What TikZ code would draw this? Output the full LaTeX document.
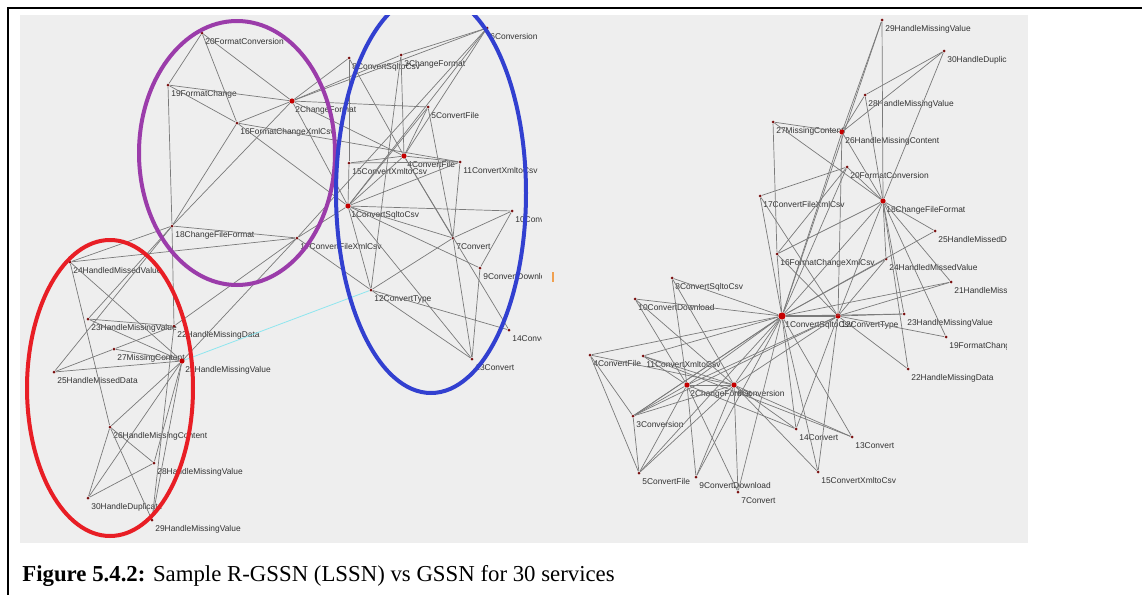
\documentclass[tikz,border=0pt]{standalone}
\usepackage{fontspec}
\setmainfont{Liberation Serif}
\newfontfamily\lblfont{Liberation Sans}
\definecolor{panel}{HTML}{EEEEEE}
\definecolor{edgegray}{HTML}{7A7A7A}
\definecolor{dotred}{HTML}{7A1010}
\definecolor{hubred}{HTML}{C40000}
\definecolor{lbltext}{HTML}{333333}
\definecolor{ringpurple}{HTML}{9B3CAA}
\definecolor{ringblue}{HTML}{3240D0}
\definecolor{ringred}{HTML}{E81E25}
\definecolor{linkcyan}{HTML}{8EE6EE}
\definecolor{tickorange}{HTML}{F0A050}
% one service: dot node plus its label below right
\newcommand\svc[5]{%
  \node[#1] (#2) at (#3,#4) {};
  \node[lbl] (#2-t) at (#3+3,#4+5) {#5};}
\begin{document}
\begin{tikzpicture}[x=0.5pt,y=-0.5pt,
  dot/.style={circle,fill=dotred,inner sep=0pt,minimum size=1.5pt},
  hub/.style={circle,fill=hubred,inner sep=0pt,minimum size=2.6pt},
  bighub/.style={circle,fill=hubred,inner sep=0pt,minimum size=3.6pt},
  lbl/.style={anchor=north west,inner sep=0pt,text=lbltext,
    font=\lblfont\fontsize{4.2}{4.2}\selectfont},
  edge/.style={draw=edgegray,line width=0.35pt},
  ring/.style={line width=2pt}]
\useasboundingbox (0,0) rectangle (1142,595);
% page frame
\draw[line width=0.8pt] (8,595) -- (8,8) -- (1142,8);
% grey canvas
\fill[panel] (20,15) rectangle (1028,543);

% ---------------- left network (R-GSSN) ----------------
\begin{scope}
\clip (20,15) rectangle (541,543);
\svc{dot}{a20}{202}{33}{20FormatConversion}
\svc{dot}{a19}{168}{85}{19FormatChange}
\svc{hub}{a2}{292}{101}{2ChangeFormat}
\svc{dot}{a16}{237}{123}{16FormatChangeXmlCsv}
\svc{dot}{a18}{172}{226}{18ChangeFileFormat}
\svc{dot}{a17}{297}{238}{17ConvertFileXmlCsv}
\svc{dot}{a8}{349}{58}{8ConvertSqltoCsv}
\svc{dot}{a3}{401}{55}{3ChangeFormat}
\svc{dot}{a6}{487}{28}{6Conversion}
\svc{dot}{a5}{428}{107}{5ConvertFile}
\svc{hub}{a4}{404}{156}{4ConvertFile}
\svc{dot}{a15}{349}{163}{15ConvertXmltoCsv}
\svc{dot}{a11}{460}{162}{11ConvertXmltoCsv}
\svc{hub}{a1}{348}{206}{1ConvertSqltoCsv}
\svc{dot}{a10}{512}{211}{10ConvertDownload}
\svc{dot}{a7}{453}{238}{7Convert}
\svc{dot}{a9}{480}{268}{9ConvertDownload}
\svc{dot}{a12}{371}{290}{12ConvertType}
\svc{dot}{a14}{509}{330}{14Convert}
\svc{dot}{a13}{472}{359}{13Convert}
\svc{dot}{a24}{70}{262}{24HandledMissedValue}
\svc{dot}{a23}{88}{319}{23HandleMissingValue}
\svc{dot}{a22}{174}{326}{22HandleMissingData}
\svc{dot}{a27}{114}{349}{27MissingContent}
\svc{hub}{a21}{182}{361}{21HandleMissingValue}
\svc{dot}{a25}{54}{372}{25HandleMissedData}
\svc{dot}{a26}{110}{427}{26HandleMissingContent}
\svc{dot}{a28}{154}{463}{28HandleMissingValue}
\svc{dot}{a30}{88}{498}{30HandleDuplicate}
\svc{dot}{a29}{152}{520}{29HandleMissingValue}
\foreach \u/\v in {a20/a19,a20/a16,a20/a2,a19/a2,a19/a16,a19/a18,
  a16/a2,a16/a18,a16/a1,a16/a11,a2/a18,a2/a8,a2/a3,a2/a6,a2/a5,a2/a4,a2/a1,
  a6/a3,a6/a4,a6/a1,a6/a17,a8/a15,a8/a4,a3/a4,a3/a12,a5/a4,a5/a7,a5/a1,
  a4/a15,a4/a11,a4/a7,a4/a14,a4/a1,a15/a11,a15/a1,a11/a7,a11/a1,
  a1/a10,a1/a7,a1/a9,a1/a12,a1/a17,a1/a13,a10/a7,a10/a9,a7/a12,a7/a13,
  a12/a14,a12/a13,a12/a17,a9/a13,a17/a18,a17/a22,a17/a21,a17/a24,
  a18/a24,a18/a22,a18/a23,a18/a25,a24/a21,a24/a26,a23/a22,a23/a21,
  a22/a27,a22/a29,a27/a21,a27/a25,a25/a21,a21/a26,a21/a28,a21/a29,a21/a30,
  a26/a28,a26/a29,a26/a30,a28/a30}
  \draw[edge] (\u) -- (\v);
\draw[draw=linkcyan,line width=0.4pt] (a21) -- (a12);
\end{scope}
\draw[tickorange,line width=0.6pt] (553,272) -- (553,282);

% service groups
\begin{scope}
\clip (20,15) rectangle (1028,543);
\draw[ring,ringpurple] (237,153) ellipse [x radius=98, y radius=132];
\draw[ring,ringblue] (431,193) ellipse [x radius=95, y radius=200];
\draw[ring,ringred] (110,388) ellipse [x radius=83, y radius=148];
\end{scope}

% ---------------- right network (GSSN) ----------------
\begin{scope}
\clip (560,15) rectangle (1006,543);
\svc{dot}{b29}{882}{20}{29HandleMissingValue}
\svc{dot}{b30}{944}{51}{30HandleDuplicate}
\svc{dot}{b28}{865}{95}{28HandleMissingValue}
\svc{dot}{b27}{773}{122}{27MissingContent}
\svc{hub}{b26}{842}{132}{26HandleMissingContent}
\svc{dot}{b20}{847}{167}{20FormatConversion}
\svc{dot}{b17}{760}{196}{17ConvertFileXmlCsv}
\svc{hub}{b18}{883}{201}{18ChangeFileFormat}
\svc{dot}{b25}{935}{231}{25HandleMissedData}
\svc{dot}{b16}{777}{254}{16FormatChangeXmlCsv}
\svc{dot}{b24}{886}{259}{24HandledMissedValue}
\svc{dot}{b8}{672}{278}{8ConvertSqltoCsv}
\svc{dot}{b21}{951}{282}{21HandleMissingValue}
\svc{dot}{b10}{635}{299}{10ConvertDownload}
\svc{bighub}{b1}{782}{316}{1ConvertSqltoCsv}
\svc{hub}{b12}{838}{316}{12ConvertType}
\svc{dot}{b23}{904}{314}{23HandleMissingValue}
\svc{dot}{b19}{946}{337}{19FormatChange}
\svc{dot}{b4}{590}{355}{4ConvertFile}
\svc{dot}{b11}{643}{356}{11ConvertXmltoCsv}
\svc{dot}{b22}{908}{369}{22HandleMissingData}
\svc{hub}{b2}{687}{385}{2ChangeFormat}
\svc{hub}{b6}{734}{385}{6Conversion}
\svc{dot}{b3}{633}{416}{3Conversion}
\svc{dot}{b14}{796}{429}{14Convert}
\svc{dot}{b13}{852}{437}{13Convert}
\svc{dot}{b5}{639}{473}{5ConvertFile}
\svc{dot}{b9}{696}{477}{9ConvertDownload}
\svc{dot}{b7}{738}{492}{7Convert}
\svc{dot}{b15}{818}{472}{15ConvertXmltoCsv}
\foreach \u/\v in {b1/b8,b1/b10,b1/b4,b1/b11,b1/b2,b1/b6,b1/b3,b1/b5,b1/b9,
  b1/b7,b1/b14,b1/b13,b1/b15,b1/b16,b1/b17,b1/b18,b1/b20,b1/b26,
  b1/b24,b1/b25,b1/b21,b1/b23,b1/b29,
  b12/b18,b12/b24,b12/b21,b12/b23,b12/b19,b12/b22,b12/b14,b12/b15,
  b12/b16,b12/b2,b12/b3,b12/b26,b12/b17,b12/b6,
  b18/b29,b18/b30,b18/b28,b18/b26,b18/b20,b18/b25,b18/b24,b18/b27,
  b18/b23,b18/b22,b18/b21,b18/b16,b18/b19,
  b26/b29,b26/b28,b26/b30,b26/b27,b28/b30,b27/b16,b17/b20,b16/b20,
  b8/b2,b8/b6,b10/b2,b10/b6,b4/b3,b4/b6,b4/b5,b11/b2,b11/b6,b11/b13,
  b2/b6,b2/b3,b2/b5,b2/b9,b2/b7,b2/b14,b6/b3,b6/b5,b6/b9,b6/b7,b6/b14,
  b6/b15,b6/b13,b3/b5,b3/b1}
  \draw[edge] (\u) -- (\v);
\draw[edge,line width=0.8pt] (b1) -- (b12);
\end{scope}

% caption
\node[anchor=base west,inner sep=0pt,font=\fontsize{11.4}{13}\selectfont]
  (cap) at (22,581) {\textbf{Figure 5.4.2:} Sample R-GSSN (LSSN) vs GSSN for 30 services};
\end{tikzpicture}
\end{document}
